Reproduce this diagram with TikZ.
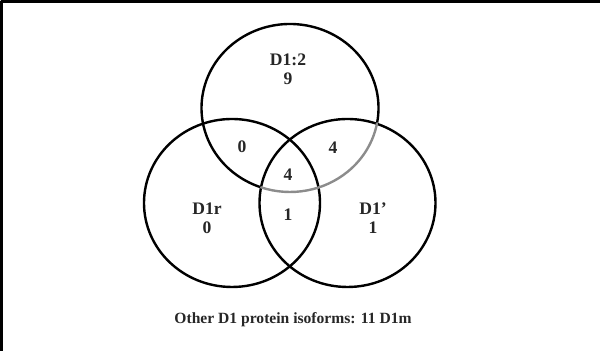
\documentclass[tikz,border=0pt]{standalone}
\usepackage{fontspec}
\setmainfont{Liberation Serif}
\usepackage{xcolor}
\usepackage{tikz}
\usetikzlibrary{positioning}
\definecolor{vennline}{HTML}{000000}
\definecolor{venngray}{HTML}{8C8C8C}
\tikzset{
every picture/.style={line cap=round,line join=round},
venn ring/.style={draw=vennline, line width=1.2pt},
venn shade/.style={draw=venngray, line width=1.2pt},
venn label/.style={font=\bfseries\fontsize{8.8}{9.5}\selectfont, text=black!85, align=center, inner sep=0pt},
venn note/.style={venn label, font=\bfseries\fontsize{7.8}{9}\selectfont},
frame line/.style={draw=vennline, line width=1.3pt, line cap=butt}
}
\begin{document}
\begin{tikzpicture}[x=0.5pt,y=0.5pt]
\useasboundingbox (0,0) rectangle (600,351);
\draw[frame line] (1.5,0) -- (1.5,349.5) -- (600,349.5);
% the three sets
\draw[venn ring] (232,148) ellipse [x radius=88, y radius=84];
\draw[venn ring] (347.5,148) ellipse [x radius=88, y radius=84];
\draw[venn ring] (290,243) ++(-10.5:88.5 and 84) arc[start angle=-10.5, end angle=250.9, x radius=88.5, y radius=84];
\draw[venn shade] (290,243) ++(-109.1:88.5 and 84) arc[start angle=-109.1, end angle=-10.5, x radius=88.5, y radius=84];
% counts
\node[venn label] (d12) at (288,282) {D1:2\\9};
\node[venn label] (dr) at (207,132.5) {D1r\\0};
\node[venn label] (dp) at (373,132.5) {D1’\\1};
\node[venn label] (d12dr) at (242,204) {0};
\node[venn label] (d12dp) at (333,203) {4};
\node[venn label] (core) at (288,176) {4};
\node[venn label] (drdp) at (288,136) {1};
\node[venn note] (others) at (293,31) {Other D1 protein isoforms: 11 D1m};
\end{tikzpicture}
\end{document}
